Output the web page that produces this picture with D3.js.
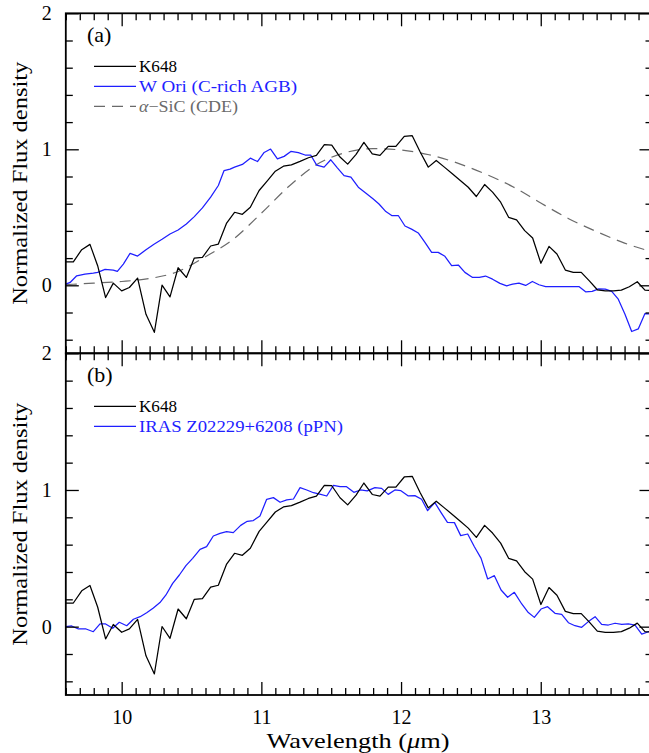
<!DOCTYPE html>
<html>
<head>
<meta charset="utf-8">
<script src="https://cdn.jsdelivr.net/npm/d3@7"></script>
<style>
  html, body { margin: 0; padding: 0; background: #fff; overflow: hidden; }
  svg { display: block; }
</style>
</head>
<body>
<div id="chart"></div>
<script>
// ---- Data: [wavelength (um), normalized flux] ----
const k648 = [
  [9.600,0.173],[9.654,0.173],[9.714,0.262],[9.773,0.301],[9.828,0.144],[9.885,-0.090],
  [9.940,0.016],[10.000,-0.041],[10.055,-0.016],[10.114,0.053],[10.174,-0.213],[10.234,-0.346],
  [10.289,0.001],[10.346,-0.085],[10.404,0.129],[10.463,0.058],[10.520,0.200],[10.578,0.205],
  [10.637,0.289],[10.692,0.303],[10.750,0.455],[10.808,0.537],[10.864,0.522],[10.921,0.574],
  [10.984,0.697],[11.041,0.766],[11.100,0.839],[11.158,0.876],[11.215,0.886],[11.277,0.911],
  [11.337,0.938],[11.394,0.955],[11.451,1.034],[11.504,1.031],[11.563,0.943],[11.618,0.891],
  [11.678,0.963],[11.734,1.051],[11.794,0.967],[11.849,0.955],[11.908,1.021],[11.963,1.021],
  [12.023,1.095],[12.080,1.100],[12.137,0.980],[12.195,0.869],[12.252,0.918],[12.310,0.869],
  [12.367,0.820],[12.424,0.771],[12.481,0.721],[12.539,0.653],[12.598,0.741],[12.655,0.685],
  [12.713,0.611],[12.770,0.500],[12.827,0.481],[12.885,0.402],[12.942,0.348],[13.001,0.162],
  [13.059,0.286],[13.116,0.230],[13.176,0.112],[13.233,0.095],[13.290,0.095],[13.348,0.033],
  [13.405,-0.033],[13.462,-0.041],[13.520,-0.041],[13.577,-0.036],[13.634,-0.011],[13.691,0.026],
  [13.746,-0.036],[13.800,-0.040]
];

const wOri = [
  [9.600,0.009],[9.631,0.021],[9.678,0.070],[9.737,0.082],[9.797,0.090],[9.828,0.095],
  [9.881,0.117],[9.940,0.112],[9.969,0.102],[10.012,0.156],[10.060,0.235],[10.114,0.215],
  [10.174,0.262],[10.234,0.304],[10.289,0.338],[10.346,0.377],[10.404,0.407],[10.463,0.451],
  [10.520,0.505],[10.578,0.569],[10.637,0.648],[10.692,0.734],[10.733,0.844],[10.776,0.854],
  [10.808,0.869],[10.864,0.889],[10.921,0.935],[10.972,0.910],[11.020,0.977],[11.066,1.002],
  [11.115,0.930],[11.163,0.948],[11.211,0.984],[11.265,0.975],[11.313,0.958],[11.353,0.958],
  [11.396,0.884],[11.449,0.869],[11.497,0.923],[11.544,0.864],[11.592,0.807],[11.641,0.795],
  [11.694,0.721],[11.749,0.677],[11.801,0.635],[11.842,0.598],[11.891,0.542],[11.933,0.513],
  [11.980,0.513],[12.028,0.436],[12.075,0.413],[12.123,0.385],[12.171,0.316],[12.219,0.242],
  [12.266,0.242],[12.314,0.213],[12.362,0.144],[12.410,0.149],[12.457,0.095],[12.512,0.058],
  [12.560,0.058],[12.605,0.068],[12.655,0.045],[12.708,0.014],[12.756,-0.004],[12.799,0.009],
  [12.844,0.016],[12.892,-0.001],[12.940,0.028],[12.987,0.004],[13.035,-0.009],[13.090,-0.009],
  [13.138,-0.009],[13.185,-0.009],[13.233,-0.009],[13.273,-0.009],[13.321,-0.048],[13.368,-0.045],
  [13.415,-0.026],[13.462,-0.028],[13.508,-0.045],[13.555,-0.102],[13.603,-0.213],[13.651,-0.340],
  [13.698,-0.321],[13.746,-0.208],[13.800,-0.213]
];

// alpha-SiC (CDE) profile, sampled every 0.2 um
const sicCDE = [
  [9.6,0.005],[9.8,0.016],[10.0,0.028],[10.2,0.050],[10.4,0.100],[10.6,0.210],[10.8,0.340],
  [11.0,0.530],[11.2,0.730],[11.4,0.890],[11.6,0.975],[11.8,1.005],[12.0,0.995],[12.2,0.960],
  [12.4,0.900],[12.6,0.820],[12.8,0.725],[13.0,0.605],[13.2,0.490],[13.4,0.395],[13.6,0.310],
  [13.8,0.245]
];

const iras = [
  [9.600,0.000],[9.642,0.005],[9.690,-0.017],[9.745,-0.017],[9.797,-0.037],[9.845,0.020],
  [9.885,0.020],[9.936,-0.012],[9.983,0.032],[10.036,0.007],[10.084,0.054],[10.132,0.073],
  [10.179,0.102],[10.227,0.137],[10.274,0.176],[10.317,0.232],[10.365,0.317],[10.413,0.378],
  [10.460,0.446],[10.508,0.500],[10.561,0.566],[10.608,0.585],[10.656,0.663],[10.704,0.683],
  [10.751,0.695],[10.799,0.688],[10.852,0.741],[10.899,0.771],[10.942,0.776],[10.990,0.810],
  [11.038,0.932],[11.086,0.944],[11.134,0.910],[11.182,0.927],[11.230,0.934],[11.277,1.017],
  [11.325,1.000],[11.373,0.980],[11.425,0.968],[11.468,0.956],[11.516,1.034],[11.563,1.024],
  [11.610,1.024],[11.662,0.983],[11.710,1.000],[11.758,0.993],[11.813,1.017],[11.861,1.012],
  [11.908,0.968],[11.956,1.000],[11.999,0.995],[12.052,0.956],[12.099,0.959],[12.147,0.932],
  [12.190,0.849],[12.242,0.907],[12.290,0.829],[12.332,0.763],[12.382,0.761],[12.427,0.666],
  [12.477,0.678],[12.525,0.585],[12.573,0.500],[12.620,0.349],[12.668,0.373],[12.716,0.268],
  [12.763,0.215],[12.811,0.251],[12.864,0.166],[12.911,0.103],[12.954,0.068],[13.002,0.129],
  [13.049,0.146],[13.102,0.098],[13.150,0.090],[13.198,0.029],[13.245,0.007],[13.293,-0.005],
  [13.341,0.037],[13.389,0.073],[13.436,0.017],[13.484,0.012],[13.532,0.025],[13.580,0.017],
  [13.627,0.020],[13.675,0.012],[13.723,-0.054],[13.771,-0.037],[13.800,-0.030]
];

// Axis ticks
const xMajor = [10, 11, 12, 13];
const yMajor = [0, 1, 2];
const xDomain = [9.6, 13.8];
const yDomain = [-0.5, 2];

// ---- Layout ----
const W = 649, H = 753;
const BLUE = "#1f1fff", GREY = "#6a6a6a";
const SERIF = "'Liberation Serif', 'Times New Roman', serif";

const svg = d3.select("#chart").append("svg")
  .attr("width", W).attr("height", H)
  .attr("viewBox", `0 0 ${W} ${H}`);

const x = d3.scaleLinear().domain(xDomain).range([65.8, 652.5]);
const xMinor = d3.range(96, 139).map(d => d / 10).filter(v => !xMajor.includes(v));
const yMinor = d3.range(-4, 20, 2).map(d => d / 10).filter(v => !yMajor.includes(v));

const panels = [
  { id: "a", top: 13.3, bottom: 353.3, label: "(a)",
    series: [
      { data: k648, color: "#000", dash: null, name: "K648", len: 38 },
      { data: wOri, color: BLUE, dash: null, name: "W Ori (C-rich AGB)", len: 158 },
      { data: sicCDE, color: GREY, dash: "11,7", name: "SiC", len: 99, smooth: true }
    ] },
  { id: "b", top: 353.3, bottom: 695.0, label: "(b)",
    series: [
      { data: k648, color: "#000", dash: null, name: "K648", len: 38 },
      { data: iras, color: BLUE, dash: null, name: "IRAS Z02229+6208 (pPN)", len: 204 }
    ] }
];

const x0 = x.range()[0], x1 = x.range()[1];

panels.forEach((p, pi) => {
  const y = d3.scaleLinear().domain(yDomain).range([p.bottom, p.top]);
  const g = svg.append("g");

  // clip for data curves
  svg.append("clipPath").attr("id", "clip-" + p.id)
    .append("rect").attr("x", x0).attr("y", p.top)
    .attr("width", x1 - x0).attr("height", p.bottom - p.top);

  const line = d3.line().x(d => x(d[0])).y(d => y(d[1]));
  const smoothLine = d3.line().x(d => x(d[0])).y(d => y(d[1])).curve(d3.curveMonotoneX);

  const curves = g.append("g").attr("clip-path", `url(#clip-${p.id})`);
  // draw dashed model first, then blue, then black on top
  [...p.series].reverse().forEach(s => {
    curves.append("path")
      .datum(s.data)
      .attr("d", s.smooth ? smoothLine : line)
      .attr("fill", "none")
      .attr("stroke", s.color)
      .attr("stroke-width", s.smooth ? 1.2 : 1.25)
      .attr("stroke-dasharray", s.dash)
      .attr("stroke-linejoin", "round");
  });

  // axes: major + minor ticks on all four sides, pointing inward
  function addAxis(axisGen, transform, isMajorLabels) {
    const a = g.append("g").attr("transform", transform).call(axisGen);
    a.select(".domain").remove();
    a.selectAll(".tick line").attr("stroke", "#000").attr("stroke-width", 1.3);
    a.selectAll("text").attr("font-family", SERIF).attr("font-size", 20).attr("fill", "#000");
    return a;
  }
  // left
  addAxis(d3.axisLeft(y).tickValues(yMajor).tickSize(-13).tickPadding(14).tickFormat(d3.format("d")),
    `translate(${x0},0)`);
  addAxis(d3.axisLeft(y).tickValues(yMinor).tickSize(-7).tickFormat(""), `translate(${x0},0)`);
  // right
  addAxis(d3.axisRight(y).tickValues(yMajor).tickSize(-13).tickFormat(""), `translate(${x1},0)`);
  addAxis(d3.axisRight(y).tickValues(yMinor).tickSize(-7).tickFormat(""), `translate(${x1},0)`);
  // top
  addAxis(d3.axisTop(x).tickValues(xMajor).tickSize(-13).tickFormat(""), `translate(0,${p.top})`);
  addAxis(d3.axisTop(x).tickValues(xMinor).tickSize(-7).tickFormat(""), `translate(0,${p.top})`);
  // bottom
  const bx = addAxis(d3.axisBottom(x).tickValues(xMajor).tickSize(-13).tickPadding(12)
      .tickFormat(pi === 1 ? d3.format("d") : ""), `translate(0,${p.bottom})`);
  bx.selectAll("text").attr("dy", "0.85em");
  addAxis(d3.axisBottom(x).tickValues(xMinor).tickSize(-7).tickFormat(""), `translate(0,${p.bottom})`);

  // frame
  g.append("rect").attr("x", x0).attr("y", p.top)
    .attr("width", x1 - x0).attr("height", p.bottom - p.top)
    .attr("fill", "none").attr("stroke", "#000").attr("stroke-width", 1.8);

  // y-axis title
  const cy = (p.top + p.bottom) / 2;
  g.append("text")
    .attr("transform", `translate(27,${cy}) rotate(-90)`)
    .attr("text-anchor", "middle")
    .attr("font-family", SERIF).attr("font-size", 22)
    .attr("textLength", 243).attr("lengthAdjust", "spacingAndGlyphs")
    .text("Normalized Flux density");

  // panel label
  g.append("text").attr("x", 87).attr("y", p.top + 29)
    .attr("font-family", SERIF).attr("font-size", 22)
    .text(p.label);

  // legend
  p.series.forEach((s, i) => {
    const ly = p.top + 53 + i * 20;
    g.append("line")
      .attr("x1", 94).attr("x2", 136).attr("y1", ly).attr("y2", ly)
      .attr("stroke", s.color).attr("stroke-width", 1.25)
      .attr("stroke-dasharray", s.dash);
    const t = g.append("text").attr("x", 139).attr("y", ly + 6)
      .attr("font-family", SERIF).attr("font-size", 17)
      .attr("fill", s.color)
      .attr("textLength", s.len).attr("lengthAdjust", "spacingAndGlyphs");
    if (s.name === "SiC") {
      t.append("tspan").attr("font-style", "italic").text("α");
      t.append("tspan").text("−SiC (CDE)");
    } else {
      t.text(s.name);
    }
  });
});

// x-axis title
const xt = svg.append("text")
  .attr("x", 358).attr("y", 748)
  .attr("text-anchor", "middle")
  .attr("font-family", SERIF).attr("font-size", 22)
  .attr("textLength", 183).attr("lengthAdjust", "spacingAndGlyphs");
xt.append("tspan").text("Wavelength (");
xt.append("tspan").attr("font-style", "italic").text("μ");
xt.append("tspan").text("m)");
</script>
</body>
</html>
